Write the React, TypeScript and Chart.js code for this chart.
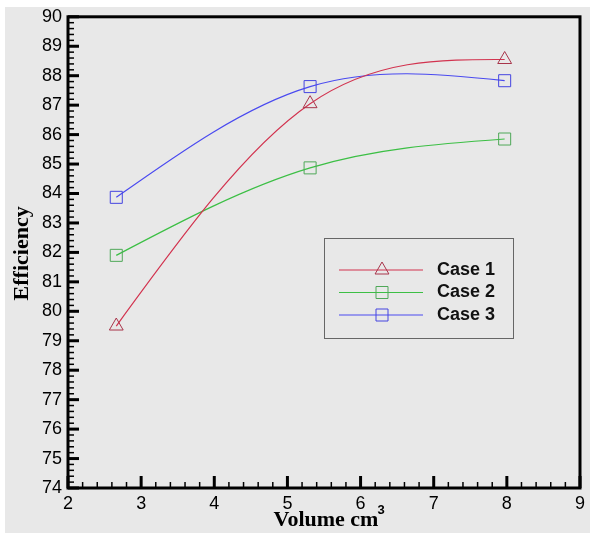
import React, { useEffect, useRef } from "react";
import { Chart, registerables } from "chart.js";

Chart.register(...registerables);

// ---- data ----
const xValues = [2.66, 5.31, 7.97];
const case1 = [79.5, 87.05, 88.55];
const case2 = [81.9, 84.87, 85.85];
const case3 = [83.87, 87.63, 87.83];
const seriesLabels = ["Case 1", "Case 2", "Case 3"];
const xTitle = "Volume cm";
const xTitleSup = "3";
const yTitle = "Efficiency";
const xMin = 2, xMax = 9, yMin = 74, yMax = 90;

const lineColors = ["#d2334f", "#3cbf45", "#4a4af0"];
const markerColors = ["#a8344a", "#4fa858", "#4444e0"];
const markerStyles = ["triangle", "rect", "rect"];

// natural cubic spline control points, applied to Chart.js line point elements
const splinePlugin = {
  id: "naturalSpline",
  beforeDatasetDraw(chart: any, args: any) {
    const meta = chart.getDatasetMeta(args.index);
    const line = meta.dataset;
    if (!line) return;
    line.updateControlPoints(chart.chartArea, "x");
    const pts = meta.data;
    const n = pts.length;
    if (n < 3) return;
    const x = pts.map((p: any) => p.x);
    const y = pts.map((p: any) => p.y);
    const h: number[] = [];
    const s: number[] = [];
    for (let i = 0; i < n - 1; i++) {
      h.push(x[i + 1] - x[i]);
      s.push((y[i + 1] - y[i]) / h[i]);
    }
    const m = n - 2;
    const a: number[] = [], b: number[] = [], c: number[] = [], d: number[] = [];
    for (let i = 1; i <= m; i++) {
      a.push(h[i - 1]);
      b.push(2 * (h[i - 1] + h[i]));
      c.push(h[i]);
      d.push(6 * (s[i] - s[i - 1]));
    }
    for (let i = 1; i < m; i++) {
      const w = a[i] / b[i - 1];
      b[i] -= w * c[i - 1];
      d[i] -= w * d[i - 1];
    }
    const Mi: number[] = new Array(m).fill(0);
    for (let i = m - 1; i >= 0; i--) {
      Mi[i] = (d[i] - (i < m - 1 ? c[i] * Mi[i + 1] : 0)) / b[i];
    }
    const M = [0, ...Mi, 0];
    for (let i = 0; i < n - 1; i++) {
      const d0 = s[i] - (h[i] * (2 * M[i] + M[i + 1])) / 6;
      const d1 = s[i] + (h[i] * (M[i] + 2 * M[i + 1])) / 6;
      pts[i].cp2x = x[i] + h[i] / 3;
      pts[i].cp2y = y[i] + (h[i] * d0) / 3;
      pts[i + 1].cp1x = x[i + 1] - h[i] / 3;
      pts[i + 1].cp1y = y[i + 1] - (h[i] * d1) / 3;
    }
  },
};

const framePlugin = {
  id: "frame",
  beforeDraw(chart: any) {
    const { ctx, width, height } = chart;
    ctx.save();
    ctx.fillStyle = "#ffffff";
    ctx.fillRect(0, 0, width, height);
    ctx.fillStyle = "#e8e8e8";
    ctx.fillRect(5, 7, width - 5, height - 7);
    ctx.restore();
  },
  afterDraw(chart: any) {
    const { ctx } = chart;
    const { left, right, top, bottom } = chart.chartArea;
    const xs = chart.scales.x;
    const ys = chart.scales.y;
    ctx.save();
    ctx.strokeStyle = "#000";
    const ny = Math.round((yMax - yMin) / 0.2);
    for (let i = 0; i <= ny; i++) {
      const v = yMin + i * 0.2;
      const py = ys.getPixelForValue(v);
      const major = i % 5 === 0;
      ctx.lineWidth = major ? 3 : 1.5;
      ctx.beginPath();
      ctx.moveTo(left, py);
      ctx.lineTo(left + (major ? 11 : 6), py);
      ctx.stroke();
    }
    const nx = Math.round((xMax - xMin) / 0.2);
    for (let i = 0; i <= nx; i++) {
      const v = xMin + i * 0.2;
      const px = xs.getPixelForValue(v);
      const major = i % 5 === 0;
      ctx.lineWidth = major ? 3 : 1.5;
      ctx.beginPath();
      ctx.moveTo(px, bottom);
      ctx.lineTo(px, bottom - (major ? 12 : 6));
      ctx.stroke();
    }
    ctx.lineWidth = 3;
    ctx.strokeRect(left, top, right - left, bottom - top);

    // legend
    ctx.lineWidth = 1;
    ctx.strokeStyle = "#666";
    ctx.strokeRect(324.5, 238.5, 189, 100);
    const rows = [270, 292.5, 315];
    rows.forEach((ry, i) => {
      ctx.strokeStyle = lineColors[i];
      ctx.lineWidth = 1;
      ctx.beginPath();
      ctx.moveTo(339, ry);
      ctx.lineTo(423, ry);
      ctx.stroke();
      ctx.strokeStyle = markerColors[i];
      ctx.beginPath();
      if (markerStyles[i] === "triangle") {
        const r = 8;
        ctx.moveTo(382, ry - r);
        ctx.lineTo(382 + r * Math.sin(Math.PI / 3), ry + r / 2);
        ctx.lineTo(382 - r * Math.sin(Math.PI / 3), ry + r / 2);
        ctx.closePath();
      } else {
        ctx.rect(376, ry - 6, 12, 12);
      }
      ctx.stroke();
      ctx.fillStyle = "#111";
      ctx.font = "bold 18px 'Liberation Sans'";
      ctx.textAlign = "left";
      ctx.textBaseline = "middle";
      ctx.fillText(seriesLabels[i], 437, ry);
    });

    // axis titles
    ctx.fillStyle = "#000";
    ctx.font = "bold 22px 'Liberation Serif'";
    ctx.textBaseline = "alphabetic";
    const cx = (left + right) / 2 + 2;
    const tw = ctx.measureText(xTitle).width;
    ctx.textAlign = "left";
    ctx.fillText(xTitle, cx - tw / 2, 526);
    ctx.font = "bold 13px 'Liberation Sans'";
    ctx.fillText(xTitleSup, cx + tw / 2 - 1, 514);

    ctx.translate(22, (top + bottom) / 2 + 1);
    ctx.rotate(-Math.PI / 2);
    ctx.font = "bold 22px 'Liberation Serif'";
    ctx.textAlign = "center";
    ctx.textBaseline = "middle";
    ctx.fillText(yTitle, 0, 0);
    ctx.restore();
  },
};

function toPoints(ys: number[]) {
  return ys.map((v, i) => ({ x: xValues[i], y: v }));
}

export default function App() {
  const ref = useRef<HTMLCanvasElement | null>(null);
  useEffect(() => {
    document.body.style.margin = "0";
    const canvas = ref.current;
    if (!canvas) return;
    const series = [case1, case2, case3];
    const chart = new Chart(canvas, {
      type: "line",
      data: {
        datasets: series.map((s, i) => ({
          label: seriesLabels[i],
          data: toPoints(s),
          borderColor: lineColors[i],
          borderWidth: 1.2,
          tension: 0.4,
          fill: false,
          pointStyle: markerStyles[i] as any,
          pointRadius: markerStyles[i] === "triangle" ? 8 : 8.5,
          pointBorderColor: markerColors[i],
          pointBackgroundColor: "rgba(0,0,0,0)",
          pointBorderWidth: 1,
        })),
      },
      options: {
        animation: false,
        responsive: false,
        devicePixelRatio: 1,
        layout: { padding: { top: 16, right: 6, left: 0, bottom: 0 } },
        plugins: { legend: { display: false }, tooltip: { enabled: false } },
        scales: {
          x: {
            type: "linear",
            min: xMin,
            max: xMax,
            grid: { display: false, drawTicks: false },
            border: { display: false },
            ticks: {
              stepSize: 1,
              padding: 5,
              color: "#000",
              maxRotation: 0,
              autoSkip: false,
              font: { family: "'Liberation Sans'", size: 18 },
            },
            afterFit(s: any) {
              s.height = 45;
            },
          },
          y: {
            type: "linear",
            min: yMin,
            max: yMax,
            grid: { display: false, drawTicks: false },
            border: { display: false },
            ticks: {
              stepSize: 1,
              padding: 6,
              color: "#000",
              autoSkip: false,
              font: { family: "'Liberation Sans'", size: 18 },
            },
            afterFit(s: any) {
              s.width = 68;
            },
          },
        },
      },
      plugins: [splinePlugin, framePlugin],
    });
    return () => chart.destroy();
  }, []);
  return (
    <div style={{ width: 590, height: 533 }}>
      <canvas ref={ref} width={590} height={533} style={{ display: "block" }} />
    </div>
  );
}
